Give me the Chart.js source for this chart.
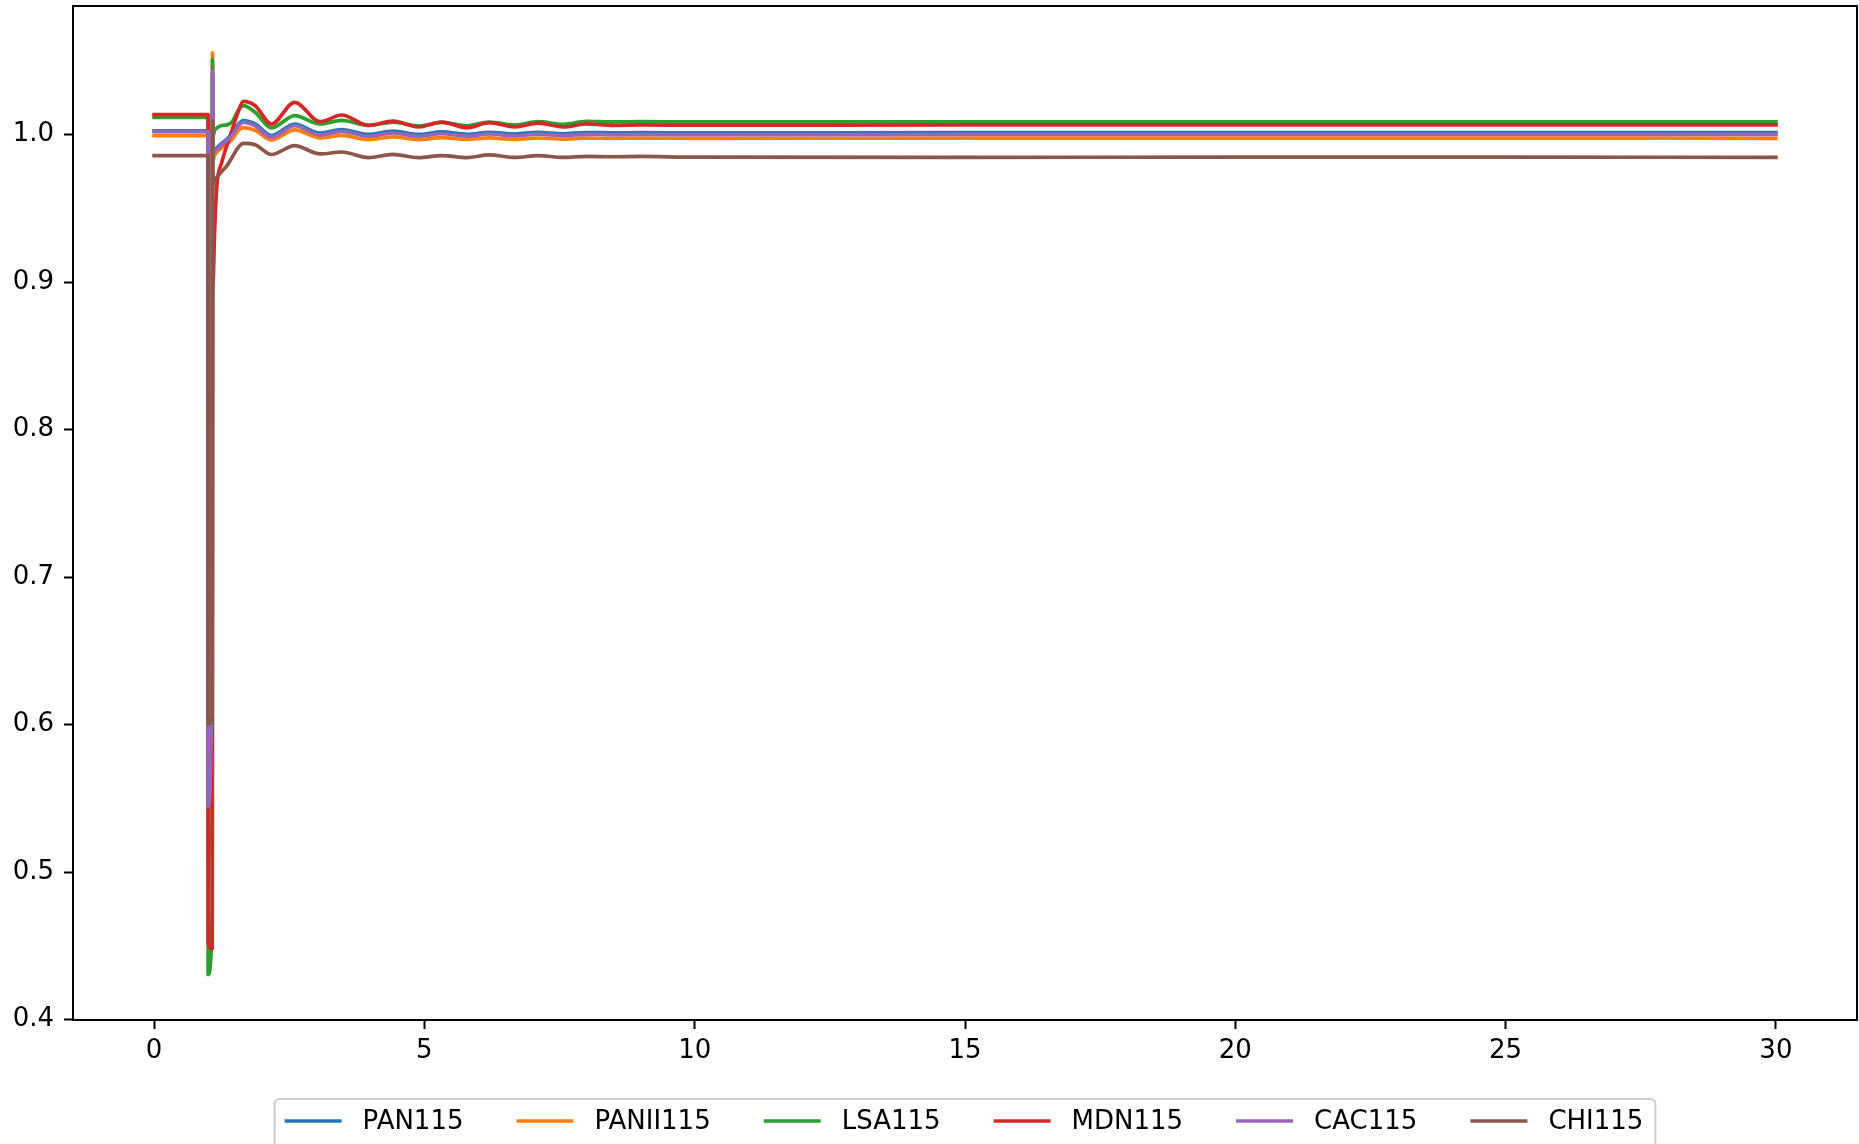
<!DOCTYPE html>
<html>
<head>
<meta charset="utf-8">
<script src="https://cdn.jsdelivr.net/npm/chart.js@4.4.1/dist/chart.umd.min.js"></script>
<style>
  html, body { margin: 0; padding: 0; background: #fff; }
  #plot { display: block; }
</style>
</head>
<body>
<canvas id="plot" width="1859" height="1144"></canvas>
<script>
// sample times (s)
const time = [0, 0.999, 1.0, 1.075, 1.08, 1.09, 1.12, 1.16, 1.25, 1.35, 1.45, 1.55, 1.65, 1.87, 2.17, 2.6, 3.07, 3.47, 3.96, 4.42, 4.89, 5.32, 5.79, 6.2, 6.68, 7.1, 7.57, 8.0, 8.5, 9.0, 10, 15, 20, 25, 30];

// bus voltages (pu)
const pan115 = [1.0025, 1.0025, 0.545, 0.67, 1.04, 0.987, 0.990, 0.991, 0.994, 0.997, 1.001, 1.0066, 1.0095, 1.0072, 0.9994, 1.0072, 1.001, 1.0034, 1.0001, 1.0023, 1.0001, 1.0018, 1.0002, 1.0016, 1.0004, 1.0015, 1.0006, 1.0014, 1.0012, 1.0013, 1.0012, 1.0013, 1.0013, 1.0013, 1.0013];
const panii115 = [0.9993, 0.9993, 0.51, 0.53, 1.0555, 0.983, 0.986, 0.988, 0.991, 0.994, 0.997, 1.0025, 1.0048, 1.003, 0.9964, 1.0032, 0.9978, 0.9995, 0.9966, 0.9985, 0.9966, 0.998, 0.9967, 0.9978, 0.9968, 0.9977, 0.997, 0.9976, 0.9975, 0.9976, 0.9975, 0.9976, 0.9976, 0.9976, 0.9975];
const lsa115 = [1.0117, 1.0117, 0.4305, 0.47, 1.051, 0.999, 1.003, 1.0045, 1.0062, 1.0066, 1.009, 1.016, 1.0196, 1.0151, 1.0045, 1.0129, 1.0072, 1.0097, 1.0063, 1.0085, 1.0058, 1.0083, 1.006, 1.0085, 1.0065, 1.0088, 1.007, 1.009, 1.0086, 1.0088, 1.0086, 1.0086, 1.0087, 1.0087, 1.0086];
const mdn115 = [1.0135, 1.0135, 0.452, 0.448, 0.88, 0.90, 0.935, 0.965, 0.981, 0.993, 1.004, 1.015, 1.0225, 1.0196, 1.0072, 1.0219, 1.0088, 1.0133, 1.0063, 1.0092, 1.0052, 1.0085, 1.0047, 1.0081, 1.0052, 1.0078, 1.0052, 1.0072, 1.0063, 1.0066, 1.0064, 1.0066, 1.0066, 1.0066, 1.0066];
const cac115 = [1.002, 1.002, 0.5445, 0.676, 1.043, 0.986, 0.989, 0.990, 0.993, 0.996, 1.0, 1.0055, 1.0083, 1.006, 0.9982, 1.006, 0.9998, 1.0022, 0.9989, 1.0011, 0.9989, 1.0006, 0.999, 1.0004, 0.9992, 1.0003, 0.9994, 1.0002, 1.0, 1.0001, 1.0, 1.0001, 1.0001, 1.0001, 1.0001];
const chi115 = [0.9858, 0.9858, 0.6005, 0.606, 1.0095, 0.966, 0.969, 0.971, 0.975, 0.979, 0.985, 0.991, 0.9941, 0.9932, 0.9865, 0.9926, 0.9869, 0.9882, 0.9844, 0.9866, 0.9844, 0.9858, 0.9844, 0.9862, 0.9845, 0.9858, 0.9845, 0.9852, 0.985, 0.9852, 0.9847, 0.9846, 0.9847, 0.9847, 0.9846];

const seriesNames = ["PAN115", "PANII115", "LSA115", "MDN115", "CAC115", "CHI115"];
const seriesValues = [pan115, panii115, lsa115, mdn115, cac115, chi115];
const colors = ["#1f77b4", "#ff7f0e", "#2ca02c", "#d62728", "#9467bd", "#8c564b"];

const xTicks = [0, 5, 10, 15, 20, 25, 30];
const yTicks = [0.4, 0.5, 0.6, 0.7, 0.8, 0.9, 1.0];

Chart.defaults.font.family = "'DejaVu Sans', sans-serif";
Chart.defaults.font.size = 26;
Chart.defaults.color = "#000";

const datasets = seriesNames.map((name, i) => ({
    label: name,
    data: time.map((t, j) => ({ x: t, y: seriesValues[i][j] })),
    borderColor: colors[i],
    backgroundColor: colors[i],
    borderWidth: 3.7,
    borderCapStyle: "square",
    borderJoinStyle: "round",
    pointRadius: 0,
    cubicInterpolationMode: "monotone",
    order: seriesNames.length - i   // later series on top, like matplotlib
}));

// axes frame (all four spines)
const framePlugin = {
    id: "frame",
    afterDatasetsDraw(chart) {
        const a = chart.chartArea;
        const ctx = chart.ctx;
        ctx.save();
        ctx.strokeStyle = "#000";
        ctx.lineWidth = 2;
        ctx.strokeRect(a.left, a.top, a.right - a.left, a.bottom - a.top);
        ctx.restore();
    }
};

// matplotlib style legend below the axes
const legendPlugin = {
    id: "mplLegend",
    afterDraw(chart) {
        const ctx = chart.ctx;
        const a = chart.chartArea;
        ctx.save();
        ctx.font = "26px 'DejaVu Sans'";
        const handleLen = 57, textOff = 78, colSpace = 53, padL = 10, padR = 12;
        const widths = chart.data.datasets.map(d => ctx.measureText(d.label).width);
        let total = padL + padR;
        widths.forEach((w, i) => { total += textOff + w + (i > 0 ? colSpace : 0); });
        const left = (a.left + a.right) / 2 - total / 2;
        const top = 1099, yMid = 1122;

        ctx.beginPath();
        ctx.roundRect(left, top, total, 70, 5);
        ctx.fillStyle = "rgba(255,255,255,0.8)";
        ctx.fill();
        ctx.strokeStyle = "#cccccc";
        ctx.lineWidth = 2;
        ctx.stroke();

        let x = left + padL;
        chart.data.datasets.forEach((d, i) => {
            ctx.beginPath();
            ctx.moveTo(x + 1.85, yMid - 1);
            ctx.lineTo(x + handleLen - 1.85, yMid - 1);
            ctx.strokeStyle = d.borderColor;
            ctx.lineWidth = 3.7;
            ctx.lineCap = "square";
            ctx.stroke();
            ctx.fillStyle = "#000";
            ctx.textBaseline = "middle";
            ctx.textAlign = "left";
            ctx.fillText(d.label, x + textOff, yMid);
            x += textOff + widths[i] + colSpace;
        });
        ctx.restore();
    }
};

new Chart(document.getElementById("plot").getContext("2d"), {
    type: "line",
    data: { datasets: datasets },
    options: {
        responsive: false,
        animation: false,
        devicePixelRatio: 1,
        layout: { padding: { top: 6, right: 2, bottom: 0, left: 0 } },
        plugins: { legend: { display: false }, tooltip: { enabled: false } },
        scales: {
            x: {
                type: "linear",
                min: -1.5,
                max: 31.5,
                border: { display: false },
                grid: { drawOnChartArea: false, drawTicks: true, tickLength: 9, tickWidth: 2, tickColor: "#000" },
                ticks: { padding: 7, maxRotation: 0, callback: v => String(v) },
                afterBuildTicks: s => { s.ticks = xTicks.map(v => ({ value: v })); },
                afterFit: s => { s.height = 124; s.paddingLeft = 0; s.paddingRight = 0; }
            },
            y: {
                type: "linear",
                min: 0.3997,
                max: 1.0872,
                border: { display: false },
                grid: { drawOnChartArea: false, drawTicks: true, tickLength: 9, tickWidth: 2, tickColor: "#000" },
                ticks: { padding: 10, callback: v => v.toFixed(1) },
                afterBuildTicks: s => { s.ticks = yTicks.map(v => ({ value: v })); },
                afterFit: s => { s.width = 73; s.paddingTop = 0; s.paddingBottom = 0; }
            }
        }
    },
    plugins: [framePlugin, legendPlugin]
});
</script>
</body>
</html>
